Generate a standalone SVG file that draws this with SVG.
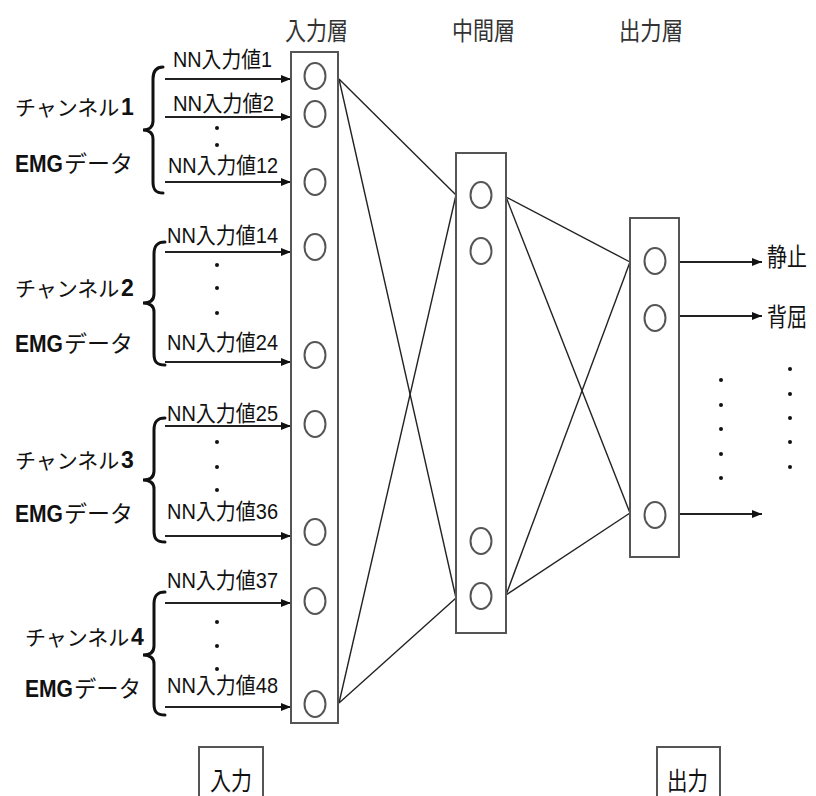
<svg xmlns="http://www.w3.org/2000/svg" width="816" height="796" viewBox="0 0 816 796">
  <defs>
    <marker id="arrow" viewBox="0 0 10 8" refX="10" refY="4" markerWidth="10" markerHeight="8" markerUnits="userSpaceOnUse" orient="auto">
      <path d="M0,0 L10,4 L0,8 Z" fill="#111"/>
    </marker>
    <style>
      text { font-family: "Liberation Sans", "Noto Sans CJK JP", sans-serif; fill: #111; }
      .layer { fill: #fff; stroke: #555; stroke-width: 2; }
      .neuron { fill: none; stroke: #555; stroke-width: 2; }
      .link { stroke: #222; stroke-width: 1.4; fill: none; }
      .in { stroke: #222; stroke-width: 2.2; fill: none; marker-end: url(#arrow); }
      .brace { stroke: #111; stroke-width: 3; fill: none; stroke-linecap: round; }
      .dot { fill: #111; }
      .nn { font-size: 22px; }
      .ch { font-size: 21px; }
      .kana { font-size: 23px; }
      .num { font-size: 23px; font-weight: bold; }
      .title { font-size: 25px; fill: #333; }
      .out { font-size: 25px; }
      .tag { fill: #fff; stroke: #555; stroke-width: 2; }
    </style>
  </defs>
  <rect width="816" height="796" fill="#fff"/>

  <!-- layer titles -->
  <g id="titles">
    <text class="title" x="285" y="40" textLength="63" lengthAdjust="spacingAndGlyphs">入力層</text>
    <text class="title" x="452" y="40" textLength="63" lengthAdjust="spacingAndGlyphs">中間層</text>
    <text class="title" x="619" y="40" textLength="64" lengthAdjust="spacingAndGlyphs">出力層</text>
  </g>

  <!-- weight connections between layers -->
  <g id="connectors">
    <line class="link" x1="339" y1="79" x2="456" y2="195"/>
    <line class="link" x1="339" y1="79" x2="456" y2="598"/>
    <line class="link" x1="339" y1="703" x2="456" y2="195"/>
    <line class="link" x1="339" y1="703" x2="456" y2="598"/>
    <line class="link" x1="506" y1="197" x2="630" y2="262"/>
    <line class="link" x1="506" y1="197" x2="630" y2="513"/>
    <line class="link" x1="506" y1="595" x2="630" y2="262"/>
    <line class="link" x1="506" y1="595" x2="630" y2="513"/>
    <!-- inputs -->
    <line class="in" x1="165" y1="79" x2="291" y2="79"/>
    <line class="in" x1="165" y1="117" x2="291" y2="117"/>
    <line class="in" x1="165" y1="182" x2="291" y2="182"/>
    <line class="in" x1="165" y1="252" x2="291" y2="252"/>
    <line class="in" x1="165" y1="362" x2="291" y2="362"/>
    <line class="in" x1="165" y1="426" x2="291" y2="426"/>
    <line class="in" x1="165" y1="536" x2="291" y2="536"/>
    <line class="in" x1="165" y1="603" x2="291" y2="603"/>
    <line class="in" x1="165" y1="707" x2="291" y2="707"/>
    <!-- outputs -->
    <line class="in" x1="679" y1="262" x2="762" y2="262"/>
    <line class="in" x1="679" y1="316" x2="762" y2="316"/>
    <line class="in" x1="679" y1="514" x2="762" y2="514"/>
  </g>

  <!-- input layer -->
  <g id="input-layer">
    <rect class="layer" x="291" y="52" width="47" height="671"/>
    <ellipse class="neuron" cx="315" cy="76" rx="10.5" ry="13"/>
    <ellipse class="neuron" cx="315" cy="114" rx="10.5" ry="13"/>
    <ellipse class="neuron" cx="315" cy="182" rx="10.5" ry="13"/>
    <ellipse class="neuron" cx="315" cy="247" rx="10.5" ry="13"/>
    <ellipse class="neuron" cx="315" cy="355" rx="10.5" ry="13"/>
    <ellipse class="neuron" cx="315" cy="424" rx="10.5" ry="13"/>
    <ellipse class="neuron" cx="315" cy="532" rx="10.5" ry="13"/>
    <ellipse class="neuron" cx="315" cy="601" rx="10.5" ry="13"/>
    <ellipse class="neuron" cx="315" cy="704" rx="10.5" ry="13"/>
  </g>

  <!-- hidden layer -->
  <g id="hidden-layer">
    <rect class="layer" x="456" y="153" width="50" height="480"/>
    <ellipse class="neuron" cx="481" cy="195" rx="10.5" ry="13"/>
    <ellipse class="neuron" cx="481" cy="251" rx="10.5" ry="13"/>
    <ellipse class="neuron" cx="481" cy="541" rx="10.5" ry="13"/>
    <ellipse class="neuron" cx="481" cy="596" rx="10.5" ry="13"/>
  </g>

  <!-- output layer -->
  <g id="output-layer">
    <rect class="layer" x="630" y="218" width="49" height="339"/>
    <ellipse class="neuron" cx="655" cy="261" rx="10.5" ry="13"/>
    <ellipse class="neuron" cx="655" cy="318" rx="10.5" ry="13"/>
    <ellipse class="neuron" cx="655" cy="515" rx="10.5" ry="13"/>
  </g>

  <!-- output labels and ellipsis -->
  <g id="outputs">
    <text class="out" x="767" y="266" textLength="40" lengthAdjust="spacingAndGlyphs">静止</text>
    <text class="out" x="767" y="326" textLength="40" lengthAdjust="spacingAndGlyphs">背屈</text>
    <circle class="dot" cx="721" cy="380" r="2"/>
    <circle class="dot" cx="721" cy="405" r="2"/>
    <circle class="dot" cx="721" cy="429" r="2"/>
    <circle class="dot" cx="721" cy="454" r="2"/>
    <circle class="dot" cx="721" cy="478" r="2"/>
    <circle class="dot" cx="790" cy="369" r="2"/>
    <circle class="dot" cx="790" cy="394" r="2"/>
    <circle class="dot" cx="790" cy="418" r="2"/>
    <circle class="dot" cx="790" cy="442" r="2"/>
    <circle class="dot" cx="790" cy="467" r="2"/>
  </g>

  <!-- channel 1 -->
  <g id="channel-1">
    <text class="ch" x="15" y="115">チャンネル</text>
    <text class="num" x="121" y="115">1</text>
    <text class="num" x="15" y="172" textLength="48" lengthAdjust="spacingAndGlyphs">EMG</text>
    <text class="kana" x="64" y="172" textLength="69" lengthAdjust="spacingAndGlyphs">データ</text>
    <path class="brace" d="M163,67 C156,67 153,71 153,79 L153,121 C153,127 149,130 143,130 C149,130 153,133 153,139 L153,182 C153,190 156,193 163,193"/>
    <text class="nn" x="173" y="67" textLength="99" lengthAdjust="spacingAndGlyphs">NN入力値1</text>
    <text class="nn" x="173" y="111" textLength="101" lengthAdjust="spacingAndGlyphs">NN入力値2</text>
    <text class="nn" x="168" y="173" textLength="110" lengthAdjust="spacingAndGlyphs">NN入力値12</text>
    <circle class="dot" cx="217" cy="128" r="2"/>
    <circle class="dot" cx="217" cy="145" r="2"/>
  </g>

  <!-- channel 2 -->
  <g id="channel-2">
    <text class="ch" x="15" y="296">チャンネル</text>
    <text class="num" x="121" y="296">2</text>
    <text class="num" x="15" y="352" textLength="48" lengthAdjust="spacingAndGlyphs">EMG</text>
    <text class="kana" x="64" y="352" textLength="69" lengthAdjust="spacingAndGlyphs">データ</text>
    <path class="brace" d="M165,242 C157,242 154,246 154,254 L154,294 C154,300 150,303 143,303 C150,303 154,306 154,312 L154,354 C154,362 157,365 165,365"/>
    <text class="nn" x="167" y="243" textLength="111" lengthAdjust="spacingAndGlyphs">NN入力値14</text>
    <text class="nn" x="167" y="350" textLength="111" lengthAdjust="spacingAndGlyphs">NN入力値24</text>
    <circle class="dot" cx="217" cy="265" r="2"/>
    <circle class="dot" cx="217" cy="288" r="2"/>
    <circle class="dot" cx="217" cy="313" r="2"/>
  </g>

  <!-- channel 3 -->
  <g id="channel-3">
    <text class="ch" x="15" y="468">チャンネル</text>
    <text class="num" x="121" y="468">3</text>
    <text class="num" x="15" y="522" textLength="48" lengthAdjust="spacingAndGlyphs">EMG</text>
    <text class="kana" x="64" y="522" textLength="69" lengthAdjust="spacingAndGlyphs">データ</text>
    <path class="brace" d="M165,418 C157,418 154,422 154,430 L154,471 C154,477 150,480 143,480 C150,480 154,483 154,489 L154,531 C154,539 157,542 165,542"/>
    <text class="nn" x="167" y="421" textLength="111" lengthAdjust="spacingAndGlyphs">NN入力値25</text>
    <text class="nn" x="167" y="519" textLength="111" lengthAdjust="spacingAndGlyphs">NN入力値36</text>
    <circle class="dot" cx="217" cy="442" r="2"/>
    <circle class="dot" cx="217" cy="467" r="2"/>
    <circle class="dot" cx="217" cy="490" r="2"/>
  </g>

  <!-- channel 4 -->
  <g id="channel-4">
    <text class="ch" x="25" y="645">チャンネル</text>
    <text class="num" x="131" y="645">4</text>
    <text class="num" x="25" y="697" textLength="48" lengthAdjust="spacingAndGlyphs">EMG</text>
    <text class="kana" x="74" y="697" textLength="67" lengthAdjust="spacingAndGlyphs">データ</text>
    <path class="brace" d="M165,592 C157,592 154,596 154,604 L154,646 C154,652 150,655 143,655 C150,655 154,658 154,664 L154,704 C154,712 157,715 165,715"/>
    <text class="nn" x="167" y="588" textLength="111" lengthAdjust="spacingAndGlyphs">NN入力値37</text>
    <text class="nn" x="167" y="693" textLength="111" lengthAdjust="spacingAndGlyphs">NN入力値48</text>
    <circle class="dot" cx="217" cy="622" r="2"/>
    <circle class="dot" cx="217" cy="646" r="2"/>
    <circle class="dot" cx="217" cy="669" r="2"/>
  </g>

  <!-- bottom captions -->
  <g id="input-caption">
    <rect class="tag" x="199" y="747" width="64" height="60"/>
    <text class="out" x="210" y="790" textLength="42" lengthAdjust="spacingAndGlyphs">入力</text>
  </g>
  <g id="output-caption">
    <rect class="tag" x="657" y="747" width="63" height="60"/>
    <text class="out" x="667" y="790" textLength="41" lengthAdjust="spacingAndGlyphs">出力</text>
  </g>
</svg>
